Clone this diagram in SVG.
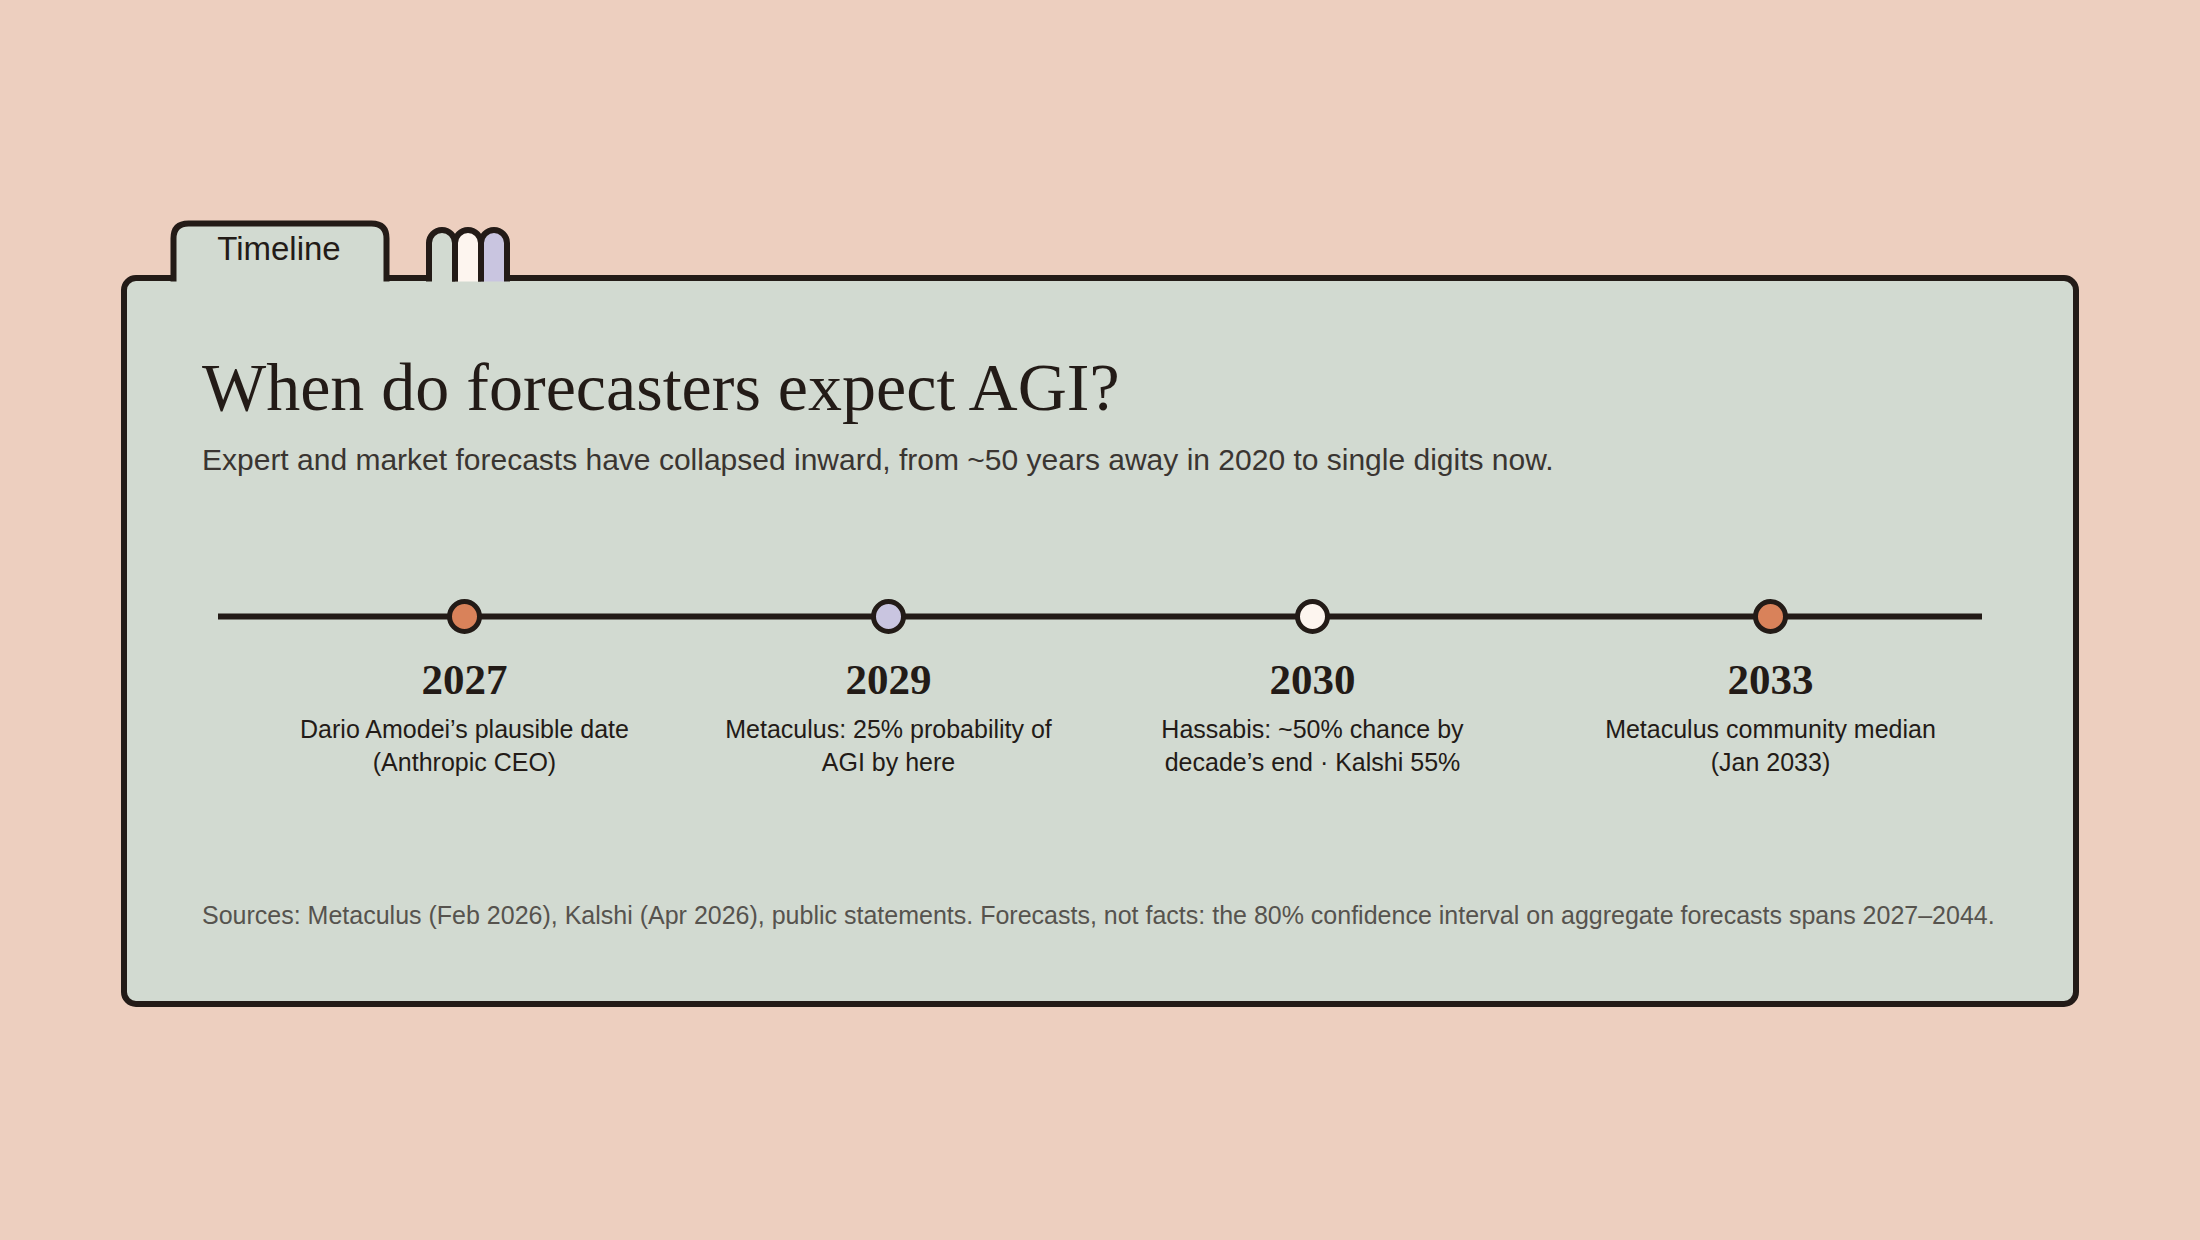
<svg xmlns="http://www.w3.org/2000/svg" width="2200" height="1240" viewBox="0 0 2200 1240">
  <style>
    .ink { stroke: #231b17; stroke-width: 6; }
    .tabtxt { font-family: "Liberation Sans", Arial, sans-serif; font-size: 33px; fill: #231b17; }
    .title { font-family: "Liberation Serif", "Times New Roman", serif; font-size: 68px; fill: #231b17; }
    .sub { font-family: "Liberation Sans", Arial, sans-serif; font-size: 30px; fill: #3a3531; }
    .year { font-family: "Liberation Serif", "Times New Roman", serif; font-size: 43px; font-weight: bold; fill: #231b17; text-anchor: middle; }
    .desc { font-family: "Liberation Sans", Arial, sans-serif; font-size: 25px; fill: #231b17; text-anchor: middle; }
    .foot { font-family: "Liberation Sans", Arial, sans-serif; font-size: 25px; fill: #56534e; }
    .dot { stroke: #231b17; stroke-width: 5; }
  </style>
  <rect x="0" y="0" width="2200" height="1240" fill="#edcfbf"/>

  <g id="card">
    <rect x="124" y="278" width="1952" height="726" rx="12" fill="#d2dad1" class="ink"/>
  </g>

  <g id="tab">
    <path d="M173.5,281.5 V238.5 Q173.5,223.5 188.5,223.5 H371.5 Q386.5,223.5 386.5,238.5 V281.5" fill="#d2dad1" class="ink"/>
    <text x="279" y="260" class="tabtxt" text-anchor="middle">Timeline</text>
  </g>

  <g id="arches">
    <path d="M429,281.5 V243 A13,13 0 0 1 455,243 V281.5" fill="#d2dad1" class="ink"/>
    <path d="M455,281.5 V243 A13,13 0 0 1 481,243 V281.5" fill="#fdf5ef" class="ink"/>
    <path d="M481,281.5 V243 A13,13 0 0 1 507,243 V281.5" fill="#c9c5e0" class="ink"/>
  </g>

  <g id="heading">
    <text x="202" y="410" class="title">When do forecasters expect AGI?</text>
    <text x="202" y="470" class="sub">Expert and market forecasts have collapsed inward, from ~50 years away in 2020 to single digits now.</text>
  </g>

  <g id="connectors">
    <line x1="218" y1="616.5" x2="1982" y2="616.5" class="ink"/>
  </g>

  <g id="node-2027">
    <circle cx="464.5" cy="616.5" r="15" fill="#d9825a" class="dot"/>
    <text x="464.5" y="693.5" class="year">2027</text>
    <text x="464.5" y="737.5" class="desc">Dario Amodei’s plausible date</text>
    <text x="464.5" y="770.5" class="desc">(Anthropic CEO)</text>
  </g>

  <g id="node-2029">
    <circle cx="888.5" cy="616.5" r="15" fill="#c9c5e0" class="dot"/>
    <text x="888.5" y="693.5" class="year">2029</text>
    <text x="888.5" y="737.5" class="desc">Metaculus: 25% probability of</text>
    <text x="888.5" y="770.5" class="desc">AGI by here</text>
  </g>

  <g id="node-2030">
    <circle cx="1312.5" cy="616.5" r="15" fill="#fdf5ef" class="dot"/>
    <text x="1312.5" y="693.5" class="year">2030</text>
    <text x="1312.5" y="737.5" class="desc">Hassabis: ~50% chance by</text>
    <text x="1312.5" y="770.5" class="desc">decade’s end · Kalshi 55%</text>
  </g>

  <g id="node-2033">
    <circle cx="1770.5" cy="616.5" r="15" fill="#d9825a" class="dot"/>
    <text x="1770.5" y="693.5" class="year">2033</text>
    <text x="1770.5" y="737.5" class="desc">Metaculus community median</text>
    <text x="1770.5" y="770.5" class="desc">(Jan 2033)</text>
  </g>

  <g id="footer">
    <text x="202" y="924" class="foot">Sources: Metaculus (Feb 2026), Kalshi (Apr 2026), public statements. Forecasts, not facts: the 80% confidence interval on aggregate forecasts spans 2027–2044.</text>
  </g>
</svg>
